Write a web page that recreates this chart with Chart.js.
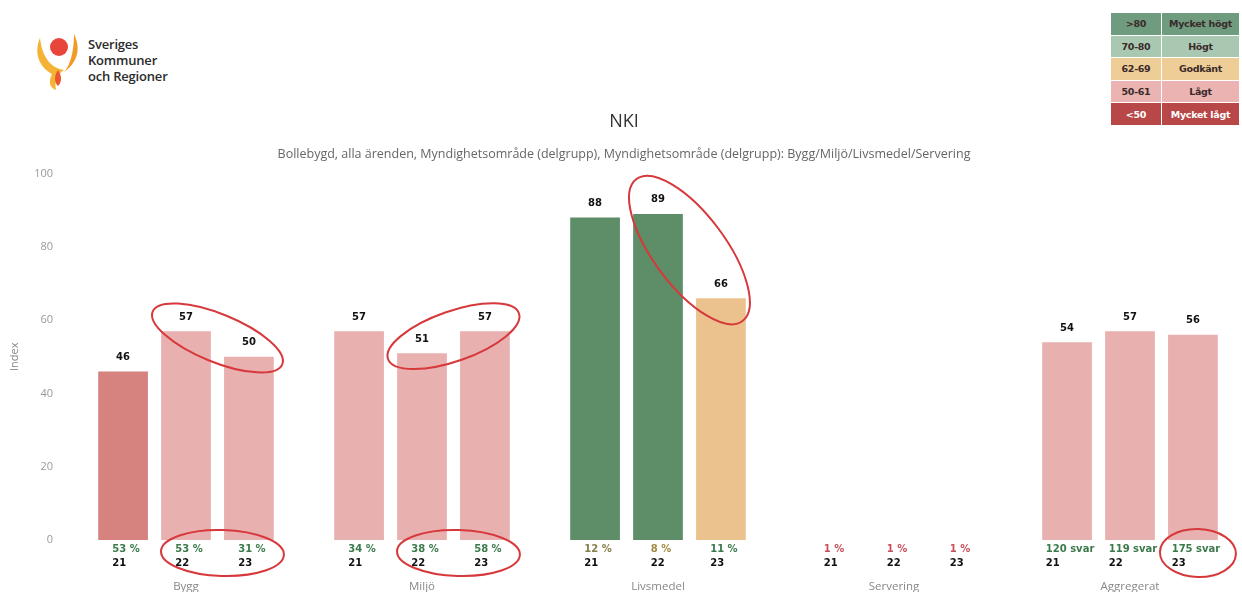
<!DOCTYPE html>
<html>
<head>
<meta charset="utf-8">
<script src="https://cdn.jsdelivr.net/npm/chart.js@4"></script>
<style>
  body { margin: 0; background: #fff; overflow: hidden; font-family: "Open Sans", "DejaVu Sans", sans-serif; }
  #wrap { position: relative; width: 1242px; height: 592px; overflow: hidden; }
  #nki { position: absolute; left: 0; top: 0; }
  .logo { position: absolute; left: 34px; top: 30px; }
  .logo-text { position: absolute; left: 88px; top: 36px; font-size: 13px; line-height: 16px; color: #2b2b2b; font-weight: 600; letter-spacing: -0.2px; }
  table.key { position: absolute; left: 1110px; top: 12px; width: 130px; height: 114px; border-collapse: collapse; font-family: "DejaVu Sans", sans-serif; font-size: 9.5px; font-weight: bold; color: #3a2a2a; letter-spacing: -0.3px; }
  table.key td { border: 1px solid #fff; text-align: center; padding: 0; }
</style>
</head>
<body>
<div id="wrap">
  <svg class="logo" width="48" height="62" viewBox="0 0 48 62">
    <path d="M6 8 C0 22 4 36 18 44 C14 52 16 58 22 60 C20 50 24 44 30 40 C16 38 8 26 6 8 Z" fill="#f5b335"/>
    <path d="M40 4 C48 20 42 34 30 42 C36 36 40 22 40 4 Z" fill="#f29a25"/>
    <circle cx="25" cy="17" r="9" fill="#e8463a"/>
    <path d="M24 40 C28 46 28 52 24 56 C20 52 20 46 24 40 Z" fill="#e8552e"/>
  </svg>
  <div class="logo-text">Sveriges<br>Kommuner<br>och Regioner</div>
  <table class="key">
    <tr style="background:#6f9c7e"><td style="width:50px">&gt;80</td><td>Mycket högt</td></tr>
    <tr style="background:#a9c8b2"><td>70-80</td><td>Högt</td></tr>
    <tr style="background:#efcd97"><td>62-69</td><td>Godkänt</td></tr>
    <tr style="background:#ebb3b1"><td>50-61</td><td>Lågt</td></tr>
    <tr style="background:#b84747;color:#fff"><td>&lt;50</td><td>Mycket lågt</td></tr>
  </table>
  <canvas id="nki" width="1248" height="592"></canvas>
</div>
<script>
const categories = ['Bygg', 'Miljö', 'Livsmedel', 'Servering', 'Aggregerat'];
const years = ['21', '22', '23'];
const yTicks = [0, 20, 40, 60, 80, 100];

// NKI index per year
const index21 = [46, 57, 88, null, 54];
const index22 = [57, 51, 89, null, 57];
const index23 = [50, 57, 66, null, 56];

// svarsfrekvens / antal svar under staplarna
const response21 = ['53 %', '34 %', '12 %', '1 %', '120 svar'];
const response22 = ['53 %', '38 %', '8 %', '1 %', '119 svar'];
const response23 = ['31 %', '58 %', '11 %', '1 %', '175 svar'];

// text colour of the response labels
const responseColor21 = ['#3b7a4b', '#3b7a4b', '#86804c', '#c9505a', '#3b7a4b'];
const responseColor22 = ['#3b7a4b', '#3b7a4b', '#a08a42', '#c9505a', '#3b7a4b'];
const responseColor23 = ['#3b7a4b', '#3b7a4b', '#3b7a4b', '#c9505a', '#3b7a4b'];

// the red hand drawn rings: category, first and last bar, where
const highlights = [
  { cat: 0, from: 1, to: 2, at: 'top', ry: 24 },
  { cat: 1, from: 1, to: 2, at: 'top', ry: 25 },
  { cat: 2, from: 1, to: 2, at: 'top', ry: 36 },
  { cat: 0, from: 1, to: 2, at: 'bottom', ry: 23 },
  { cat: 1, from: 1, to: 2, at: 'bottom', ry: 23 },
  { cat: 4, from: 2, to: 2, at: 'bottom', ry: 24 },
];

const barColor = (v) => {
  if (v == null) return 'transparent';
  if (v < 50) return '#d6827e';
  if (v < 62) return '#e8b0ae';
  if (v < 70) return '#ebc28d';
  if (v <= 80) return '#a9c8b2';
  return '#5d8e68';
};

const series = [index21, index22, index23];
const responses = [response21, response22, response23];
const responseColors = [responseColor21, responseColor22, responseColor23];

// value above each bar
const valueLabels = {
  id: 'valueLabels',
  afterDatasetsDraw(chart) {
    const ctx = chart.ctx;
    ctx.save();
    ctx.font = 'bold 10px "DejaVu Sans", sans-serif';
    ctx.fillStyle = '#111';
    ctx.textAlign = 'center';
    ctx.textBaseline = 'bottom';
    chart.data.datasets.forEach((ds, i) => {
      chart.getDatasetMeta(i).data.forEach((bar, j) => {
        if (ds.data[j] == null) return;
        ctx.fillText(ds.data[j], bar.x, bar.y - 9);
      });
    });
    ctx.restore();
  }
};

// response rate + year under each bar
const responseLabels = {
  id: 'responseLabels',
  afterDraw(chart) {
    const ctx = chart.ctx;
    const x = chart.scales.x;
    const top = chart.chartArea.bottom;
    ctx.save();
    ctx.font = 'bold 10px "DejaVu Sans", sans-serif';
    ctx.textBaseline = 'middle';
    ctx.textAlign = 'left';
    chart.data.datasets.forEach((ds, i) => {
      const meta = chart.getDatasetMeta(i);
      categories.forEach((c, j) => {
        const bar = meta.data[j];
        let bx = bar && isFinite(bar.x) ? bar.x : x.getPixelForValue(j);
        const txt = responses[i][j];
        const w = Math.max(ctx.measureText(txt).width, ctx.measureText(years[i]).width);
        const left = bx - w / 2 + 3;
        ctx.fillStyle = responseColors[i][j];
        ctx.fillText(txt, left, top + 9);
        ctx.fillStyle = '#111';
        ctx.fillText(years[i], left, top + 23);
      });
    });
    ctx.restore();
  }
};

const rings = {
  id: 'rings',
  afterDraw(chart) {
    const ctx = chart.ctx;
    ctx.save();
    ctx.strokeStyle = '#d7383b';
    ctx.lineWidth = 2;
    highlights.forEach(h => {
      const a = chart.getDatasetMeta(h.from).data[h.cat];
      const b = chart.getDatasetMeta(h.to).data[h.cat];
      ctx.beginPath();
      if (h.at === 'top') {
        const dist = Math.hypot(b.x - a.x, b.y - a.y);
        const ang = Math.atan2(b.y - a.y, b.x - a.x);
        ctx.ellipse((a.x + b.x) / 2, (a.y + b.y) / 2 - 6, dist / 2 + 36, h.ry, ang, 0, Math.PI * 2);
      } else {
        const rx = h.from === h.to ? 38 : Math.abs(b.x - a.x) / 2 + 30;
        ctx.ellipse((a.x + b.x) / 2 + 5, chart.chartArea.bottom + 13, rx, h.ry, 0.03, 0, Math.PI * 2);
      }
      ctx.stroke();
    });
    ctx.restore();
  }
};

new Chart(document.getElementById('nki'), {
  type: 'bar',
  data: {
    labels: categories,
    datasets: series.map((d, i) => ({
      label: years[i],
      data: d,
      backgroundColor: d.map(barColor),
      categoryPercentage: 0.8,
      barPercentage: 0.79,
    })),
  },
  options: {
    responsive: false,
    animation: false,
    layout: { padding: { top: 111, left: 0, right: 0, bottom: 0 } },
    plugins: {
      legend: { display: false },
      tooltip: { enabled: false },
      title: {
        display: true,
        text: 'NKI',
        color: '#333',
        font: { family: '"Open Sans", sans-serif', size: 18, weight: 'normal' },
        padding: { top: 0, bottom: 14 },
      },
      subtitle: {
        display: true,
        text: 'Bollebygd, alla ärenden, Myndighetsområde (delgrupp), Myndighetsområde (delgrupp): Bygg/Miljö/Livsmedel/Servering',
        color: '#666',
        font: { family: '"Open Sans", sans-serif', size: 12.5 },
        padding: { top: 0, bottom: 12 },
      },
    },
    scales: {
      x: {
        afterFit: (s) => { s.height = 52; },
        grid: { display: false, drawTicks: false },
        border: { display: false },
        ticks: { color: '#888', padding: 40, font: { family: '"Open Sans", sans-serif', size: 11.5 } },
      },
      y: {
        min: 0,
        max: 100,
        afterBuildTicks: (s) => { s.ticks = yTicks.map(v => ({ value: v })); },
        afterFit: (s) => { s.width = 68; },
        grid: { display: false, drawTicks: false },
        border: { display: false },
        ticks: { color: '#999', padding: 15, font: { family: '"Open Sans", sans-serif', size: 11 } },
        title: { display: true, text: 'Index', color: '#888', padding: { top: 8 }, font: { family: '"Open Sans", sans-serif', size: 11 } },
      },
    },
  },
  plugins: [valueLabels, responseLabels, rings],
});
</script>
</body>
</html>
